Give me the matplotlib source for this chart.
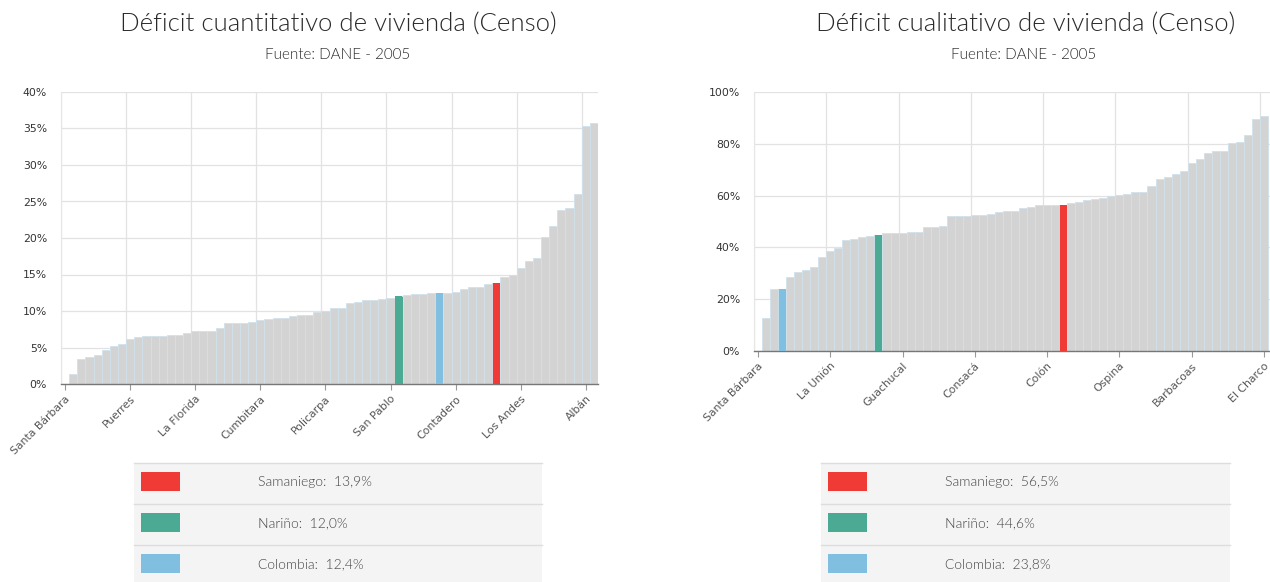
import matplotlib
matplotlib.use("Agg")
import matplotlib.pyplot as plt
from matplotlib.patches import Rectangle
from matplotlib.ticker import FuncFormatter

# --- data (values in %) ---
cuanti_vals = [0, 1.4, 3.4, 3.7, 4.0, 4.6, 5.2, 5.5, 6.2, 6.5, 6.6, 6.6, 6.6, 6.7, 6.7, 7.0,
               7.2, 7.3, 7.3, 7.7, 8.4, 8.4, 8.4, 8.5, 8.8, 8.9, 9.0, 9.1, 9.3, 9.4, 9.4, 9.9,
               10.0, 10.45, 10.45, 11.1, 11.3, 11.55, 11.55, 11.7, 11.8, 12.0, 12.2, 12.3, 12.3, 12.4,
               12.4, 12.4, 12.6, 13.0, 13.25, 13.25, 13.65, 13.9, 14.6, 15.0, 15.9, 16.9, 17.2, 20.2,
               21.6, 23.9, 24.1, 26.0, 35.4, 35.8]
cuanti_labels = ["Santa Bárbara", "Puerres", "La Florida", "Cumbitara", "Policarpa",
                 "San Pablo", "Contadero", "Los Andes", "Albán"]
cuanti_hl = {53: "#ef3a36", 41: "#4aaa94", 46: "#80bfe0"}

cuali_vals = [0, 12.9, 23.8, 23.8, 28.6, 30.5, 31.3, 32.3, 36.2, 38.5, 39.8, 42.9, 43.2, 44.0,
              44.4, 44.6, 45.6, 45.6, 45.6, 45.9, 45.9, 47.9, 47.9, 48.3, 52.0, 52.0, 52.0, 52.4,
              52.4, 52.8, 53.8, 54.2, 54.2, 55.1, 55.5, 56.4, 56.4, 56.4, 56.5, 57.1, 57.7, 58.4,
              58.8, 59.2, 59.7, 60.1, 60.5, 61.3, 61.3, 63.6, 66.5, 67.0, 68.2, 69.4, 72.7, 74.3,
              76.4, 77.2, 77.2, 80.3, 80.7, 83.5, 89.6, 90.7]
cuali_labels = ["Santa Bárbara", "La Unión", "Guachucal", "Consacá", "Colón",
                "Ospina", "Barbacoas", "El Charco"]
cuali_hl = {38: "#ef3a36", 15: "#4aaa94", 3: "#80bfe0"}

legend_names = ["Samaniego", "Nariño", "Colombia"]
legend_colors = ["#ef3a36", "#4aaa94", "#80bfe0"]
cuanti_legend = ["13,9%", "12,0%", "12,4%"]
cuali_legend = ["56,5%", "44,6%", "23,8%"]

W, H = 1270, 582
fig = plt.figure(figsize=(W / 100, H / 100), dpi=100)


def px(x0, y0, x1, y1):
    # pixel box (top-left origin) -> figure fraction rect
    return [x0 / W, 1 - y1 / H, (x1 - x0) / W, (y1 - y0) / H]


def draw_chart(rect, vals, hl, labels, step, ymax, ystep, nslots):
    ax = fig.add_axes(rect)
    cols = [hl.get(i, "#d3d3d3") for i in range(len(vals))]
    ax.bar(range(len(vals)), vals, width=1.0, color=cols, edgecolor="#cfe2ec",
           linewidth=0.6, zorder=2)
    for i, c in hl.items():
        ax.bar(i, vals[i], width=0.86, color=c, linewidth=0, zorder=3)
    ax.set_xlim(-0.5, nslots - 0.5)
    ax.set_ylim(0, ymax)
    ax.set_yticks(range(0, ymax + 1, ystep))
    ax.yaxis.set_major_formatter(FuncFormatter(lambda v, p: f"{v:.0f}%"))
    ticks = [k * step for k in range(len(labels))]
    ax.set_xticks(ticks)
    ax.set_xticks([t - 0.5 for t in ticks], minor=True)
    ax.set_xticklabels(labels, rotation=45, ha="right", rotation_mode="anchor",
                       fontsize=7.8, color="#555555")
    ax.yaxis.grid(True, color="#e2e2e2", linewidth=0.9)
    ax.xaxis.grid(True, which="minor", color="#e2e2e2", linewidth=0.9)
    ax.xaxis.grid(False, which="major")
    ax.set_axisbelow(True)
    for s in ["top", "right"]:
        ax.spines[s].set_visible(False)
    ax.spines["left"].set_color("#e6e6e6")
    ax.spines["bottom"].set_color("#777777")
    ax.spines["bottom"].set_linewidth(1.0)
    ax.tick_params(axis="y", length=0, labelsize=7.8, labelcolor="#333333", pad=10)
    ax.tick_params(axis="x", which="major", length=4, color="#999999", pad=3)
    ax.tick_params(axis="x", which="minor", length=0)
    return ax


draw_chart(px(61, 92, 598, 384), cuanti_vals, cuanti_hl, cuanti_labels, 8, 40, 5, 66)
draw_chart(px(754, 92, 1284, 351), cuali_vals, cuali_hl, cuali_labels, 9, 100, 20, 66)

title_font = dict(family=["Lato", "DejaVu Sans"], fontweight=300, color="#2a2a2a")
fig.text(338 / W, 1 - 25 / H, "Déficit cuantitativo de vivienda (Censo)", ha="center",
         va="center", fontsize=18.5, **title_font)
fig.text(338 / W, 1 - 55 / H, "Fuente: DANE - 2005", ha="center", va="center",
         fontsize=11, **title_font)
fig.text(1026 / W, 1 - 25 / H, "Déficit cualitativo de vivienda (Censo)", ha="center",
         va="center", fontsize=18.5, **title_font)
fig.text(1024 / W, 1 - 55 / H, "Fuente: DANE - 2005", ha="center", va="center",
         fontsize=11, **title_font)


def draw_legend(x0, x1, texts):
    row_h = 41
    for k, (name, col, val) in enumerate(zip(legend_names, legend_colors, texts)):
        y0 = 463 + k * row_h
        fig.add_artist(Rectangle((x0 / W, 1 - (y0 + row_h) / H), (x1 - x0) / W, row_h / H,
                                 transform=fig.transFigure, facecolor="#f4f4f4",
                                 edgecolor="none"))
        fig.add_artist(plt.Line2D([x0 / W, x1 / W], [1 - y0 / H, 1 - y0 / H],
                                  transform=fig.transFigure, color="#dddddd", lw=1))
        fig.add_artist(Rectangle(((x0 + 7) / W, 1 - (y0 + 28) / H), 39 / W, 19 / H,
                                 transform=fig.transFigure, facecolor=col,
                                 edgecolor="none"))
        fig.text((x0 + 124) / W, 1 - (y0 + 19) / H, f"{name}:  {val}", ha="left",
                 va="center", fontsize=10, family=["Lato", "DejaVu Sans"],
                 fontweight=300, color="#444444")


draw_legend(134, 542, cuanti_legend)
draw_legend(821, 1230, cuali_legend)

fig.savefig("out.png", dpi=100)
